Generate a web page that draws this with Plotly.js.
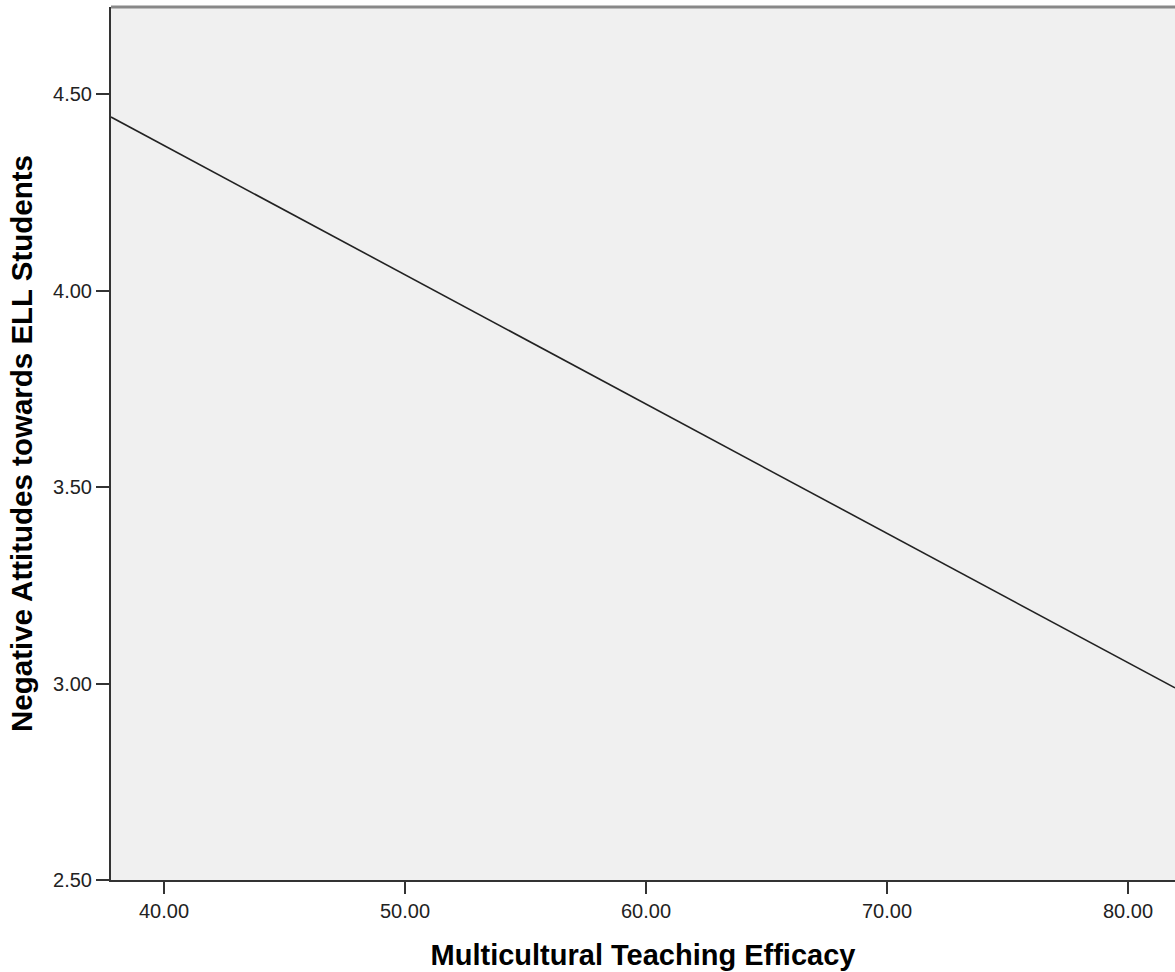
<!DOCTYPE html>
<html>
<head>
<meta charset="utf-8">
<script src="https://cdn.plot.ly/plotly-3.0.1.min.js"></script>
<style>html,body{margin:0;padding:0;background:#fff;}#chart{width:1175px;height:972px;}</style>
</head>
<body>
<div id="chart"></div>
<script>
const efficacy = [37.8, 81.95];
const attitudes = [4.442, 2.989];
const xTicks = [40, 50, 60, 70, 80];
const xTickLabels = ["40.00", "50.00", "60.00", "70.00", "80.00"];
const yTicks = [2.5, 3.0, 3.5, 4.0, 4.5];
const yTickLabels = ["2.50", "3.00", "3.50", "4.00", "4.50"];

const trace = {
  x: efficacy, y: attitudes, type: 'scatter', mode: 'lines',
  line: {color: '#222222', width: 1.6}, hoverinfo: 'skip'
};
const layout = {
  width: 1175, height: 972,
  margin: {l: 111, r: 0, t: 7, b: 92},
  paper_bgcolor: '#ffffff', plot_bgcolor: '#f0f0f0',
  showlegend: false,
  font: {family: 'Liberation Sans, Arial, sans-serif', color: '#222'},
  xaxis: {
    range: [37.8, 81.95], tickvals: xTicks, ticktext: xTickLabels,
    ticks: 'outside', ticklen: 12, tickwidth: 2, tickcolor: '#333',
    showgrid: false, zeroline: false, showline: true, linecolor: '#333', linewidth: 2,
    tickfont: {size: 20, color: '#222'},
    title: {text: 'Multicultural Teaching Efficacy', font: {size: 29, color: '#000', weight: 'bold'}, standoff: 24}
  },
  yaxis: {
    range: [2.5, 4.722], tickvals: yTicks, ticktext: yTickLabels,
    ticks: 'outside', ticklen: 13, tickwidth: 2, tickcolor: '#333',
    showgrid: false, zeroline: false, showline: true, linecolor: '#333', linewidth: 2,
    tickfont: {size: 20, color: '#222'},
    title: {text: 'Negative Attitudes towards ELL Students', font: {size: 29.5, color: '#000', weight: 'bold'}, standoff: 12}
  },
  shapes: [{type: 'line', xref: 'paper', yref: 'paper', x0: 0, x1: 1, y0: 1, y1: 1, line: {color: '#888', width: 3}}]
};
Plotly.newPlot('chart', [trace], layout, {displayModeBar: false, staticPlot: true});
</script>
</body>
</html>
